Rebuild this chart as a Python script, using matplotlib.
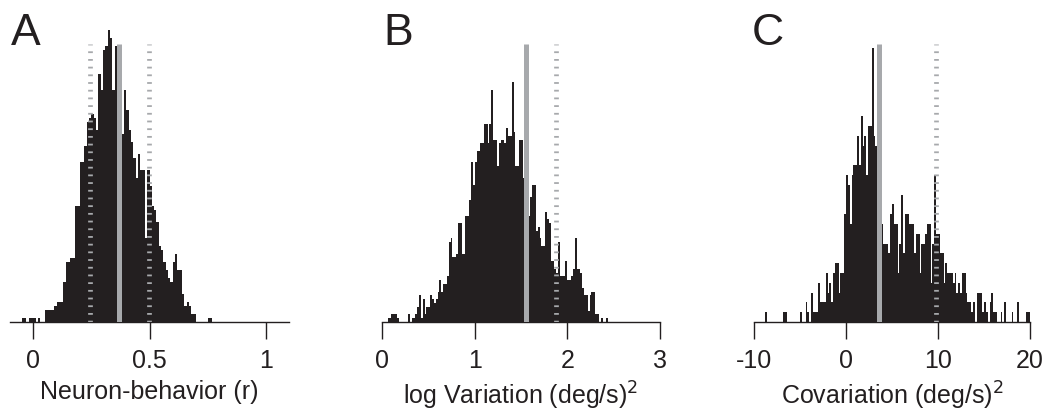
import matplotlib
matplotlib.use("Agg")
import matplotlib.pyplot as plt
import numpy as np

plt.rcParams['font.family'] = ['Liberation Sans', 'DejaVu Sans']

# ---------------- data ----------------
# Panel A: neuron-behavior correlation histogram (bin width 0.01, first left edge -0.05)
a_start, a_width = -0.05, 0.01
a_counts = [1, 1, 0, 1, 1, 1, 0, 1, 0, 0,
            3, 3, 3, 3, 4, 5, 5, 5, 10, 15,
            15, 16, 16, 29, 29, 40, 40, 44, 50, 51,
            52, 51, 48, 62, 58, 68, 69, 73, 71, 58,
            69, 67, 50, 47, 58, 53, 48, 45, 41, 36,
            42, 38, 38, 21, 38, 34, 29, 28, 25, 19,
            18, 15, 13, 11, 10, 15, 17, 13, 13, 7,
            4, 5, 4, 2, 2, 0, 0, 0, 0, 0, 1, 1]
a_solid = [0.37]
a_dotted = [0.242, 0.497]
a_ticks = [0, 0.5, 1]
a_ticklabels = ['0', '0.5', '1']
a_xlim = (-0.1, 1.1)
a_ytop = 73.0

# Panel B: log variation histogram (bin width 0.02, first left edge 0.0)
b_start, b_width = 0.0, 0.02
b_counts = [0, 0, 0, 1, 1, 2, 2, 2, 1, 0,
            0, 0, 0, 0, 2, 0, 1, 1, 2, 4,
            7, 1, 6, 2, 4, 4, 7, 6, 5, 6,
            8, 11, 8, 10, 10, 12, 21, 22, 17, 17,
            18, 26, 26, 18, 18, 28, 28, 32, 42, 36,
            42, 45, 45, 47, 47, 52, 52, 47, 52, 61,
            48, 48, 41, 47, 48, 48, 47, 51, 49, 49,
            63, 50, 41, 41, 48, 48, 38, 38, 38, 28,
            33, 36, 36, 24, 25, 22, 20, 20, 29, 27,
            26, 16, 16, 14, 13, 21, 12, 12, 12, 16,
            11, 11, 12, 14, 22, 14, 14, 13, 9, 7,
            7, 3, 7, 8, 8, 2, 2, 0, 1, 0,
            0, 1]
b_solid = [1.552]
b_dotted = [1.876]
b_ticks = [0, 1, 2, 3]
b_ticklabels = ['0', '1', '2', '3']
b_xlim = (0, 3)
b_ytop = 76.8

# Panel C: covariation histogram (bin width 0.2, first left edge -10)
c_start, c_width = -10.0, 0.2
c_counts = [0, 0, 0, 0, 0,   0, 1, 0, 0, 0,
            0, 0, 0, 0, 0,   0, 1, 1, 0, 0,
            0, 0, 0, 0, 0,   1, 0, 0, 2, 1,
            0, 3, 1, 1, 1,   4, 2, 2, 2, 5,
            3, 4, 2, 5, 6,   6, 3, 5, 5, 11,
            15, 14, 10, 15, 16,   16, 19, 16, 21, 18,
            19, 15, 20, 20, 28,   19, 18, 14, 12, 10,
            8, 8, 8, 7, 11,   12, 10, 10, 5, 8,
            13, 7, 11, 11, 10,   10, 10, 7, 9, 9,
            5, 8, 8, 9, 10,   10, 4, 8, 15, 9,
            9, 7, 7, 4, 6,   5, 5, 5, 4, 5,
            3, 4, 3, 5, 5,   3, 2, 2, 1, 2,
            0, 3, 3, 3, 1,   2, 1, 0, 2, 3,
            1, 1, 0, 0, 1,   0, 2, 0, 0, 0,
            1, 0, 0, 2, 0,   0, 0, 0, 1, 1]
c_solid = [3.6]
c_dotted = [9.73]
c_ticks = [-10, 0, 10, 20]
c_ticklabels = ['-10', '0', '10', '20']
c_xlim = (-10, 20)
c_ytop = 29.8

panel_letters = ['A', 'B', 'C']
xlabels = ['Neuron-behavior (r)', 'log Variation (deg/s)$^2$', 'Covariation (deg/s)$^2$']

# ---------------- drawing ----------------
W, H = 1050, 413
fig = plt.figure(figsize=(W / 100, H / 100), dpi=100)

bar_color = '#231f20'
line_gray = '#a7a9ac'
text_color = '#231f20'

axes_px = [(10, 289), (382, 660), (754, 1030)]
letter_x = [11, 383, 752]
bottom_px, top_px = 322, 30
line_top_frac = (bottom_px - 44) / (bottom_px - top_px)

panels = [
    (a_start, a_width, a_counts, a_solid, a_dotted, a_ticks, a_ticklabels, a_xlim, a_ytop),
    (b_start, b_width, b_counts, b_solid, b_dotted, b_ticks, b_ticklabels, b_xlim, b_ytop),
    (c_start, c_width, c_counts, c_solid, c_dotted, c_ticks, c_ticklabels, c_xlim, c_ytop),
]

for i, (start, width, counts, solids, dotteds, ticks, ticklabels, xlim, ytop) in enumerate(panels):
    x0, x1 = axes_px[i]
    ax = fig.add_axes([x0 / W, (H - bottom_px) / H, (x1 - x0) / W, (bottom_px - top_px) / H])
    edges = start + width * np.arange(len(counts))
    ax.bar(edges, counts, width=width, align='edge', color=bar_color, linewidth=0, zorder=2)
    for s in solids:
        ax.axvline(s, ymin=0, ymax=line_top_frac, color=line_gray, lw=3.6,
                   solid_capstyle='butt', zorder=3)
    for d in dotteds:
        ax.axvline(d, ymin=0, ymax=line_top_frac, color=line_gray, lw=3.4,
                   linestyle=(0, (0.38, 1.25)), dash_capstyle='butt', zorder=3)
    ax.set_xlim(*xlim)
    ax.set_ylim(0, ytop)
    for side in ['left', 'right', 'top']:
        ax.spines[side].set_visible(False)
    ax.spines['bottom'].set_linewidth(1.0)
    ax.spines['bottom'].set_color(bar_color)
    ax.set_yticks([])
    ax.set_xticks(ticks)
    ax.set_xticklabels(ticklabels)
    ax.tick_params(axis='x', direction='out', length=12.5, width=1.0, color=bar_color,
                   labelsize=18, pad=7, labelcolor=text_color)
    ax.set_xlabel(xlabels[i], fontsize=18, color=text_color, labelpad=5)
    ax.patch.set_alpha(0)
    fig.text(letter_x[i] / W, (H - 45) / H, panel_letters[i], fontsize=32,
             color=text_color, ha='left', va='baseline')

fig.savefig('out.png', dpi=100)
